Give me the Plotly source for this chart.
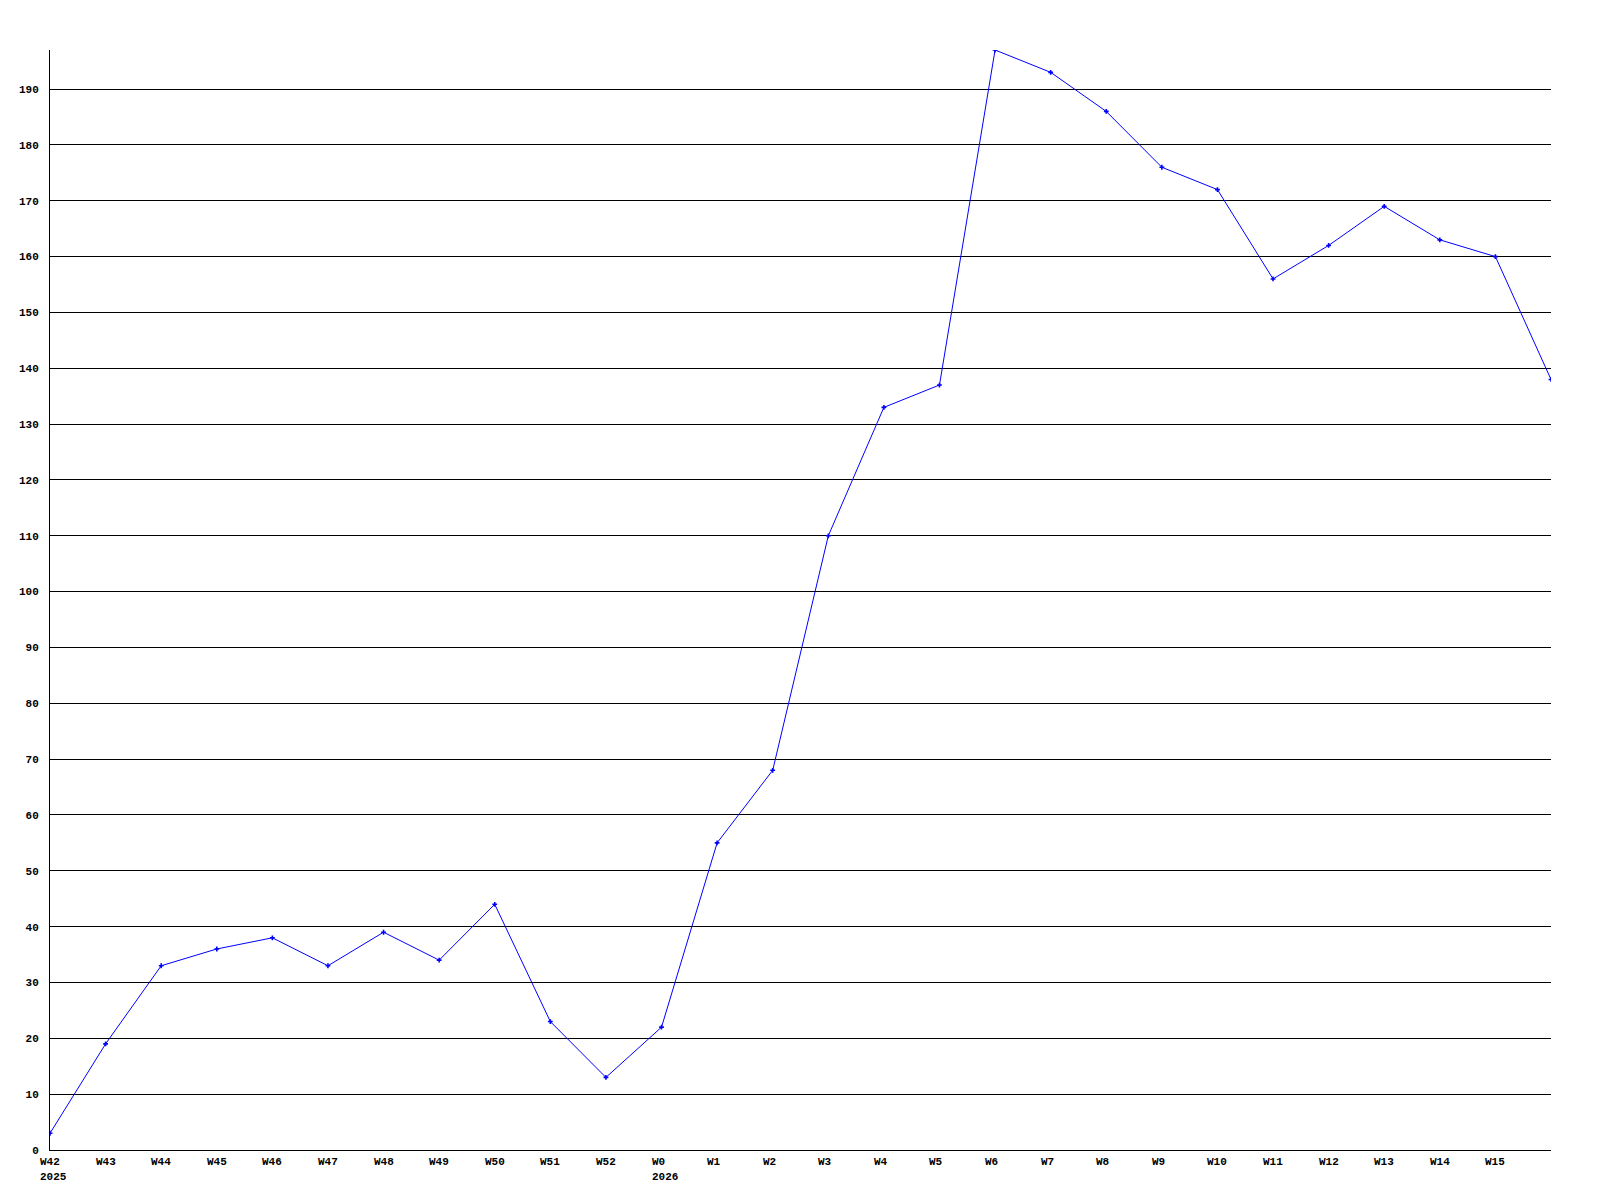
import plotly.graph_objects as go

week_labels = ["W42", "W43", "W44", "W45", "W46", "W47", "W48", "W49", "W50", "W51", "W52",
               "W0", "W1", "W2", "W3", "W4", "W5", "W6", "W7", "W8", "W9", "W10", "W11",
               "W12", "W13", "W14", "W15"]
year_labels = {0: "2025", 11: "2026"}
values = [3, 19, 33, 36, 38, 33, 39, 34, 44, 23, 13, 22, 55, 68, 110, 133, 137, 197,
          193, 186, 176, 172, 156, 162, 169, 163, 160, 138]
x_pos = list(range(len(values)))
y_ticks = list(range(0, 200, 10))

FONT = "Liberation Mono"

fig = go.Figure()
fig.add_trace(go.Scatter(
    x=x_pos, y=values, mode="lines+markers",
    line=dict(color="#0000ff", width=1),
    marker=dict(symbol="cross", size=4, color="#0000ff"),
    hoverinfo="skip", showlegend=False,
))

annotations = []
for i, lab in enumerate(week_labels):
    annotations.append(dict(
        x=i, xref="x", y=0, yref="paper", yanchor="top", xanchor="left",
        xshift=-12, yshift=-4, text=f"<b>{lab}</b>", showarrow=False, align="left",
        font=dict(family=FONT, size=11, color="black"),
    ))
    if i in year_labels:
        annotations.append(dict(
            x=i, xref="x", y=0, yref="paper", yanchor="top", xanchor="left",
            xshift=-12, yshift=-19, text=f"<b>{year_labels[i]}</b>", showarrow=False,
            align="left", font=dict(family=FONT, size=11, color="black"),
        ))

# page body has an 8px margin, so the figure is offset by 8px
fig.update_layout(
    width=1592, height=1192,
    margin=dict(l=42, r=49, t=42, b=50, autoexpand=False),
    paper_bgcolor="white", plot_bgcolor="white",
    annotations=annotations,
    xaxis=dict(range=[0, 27], showgrid=False, zeroline=False, showticklabels=False,
               showline=True, linecolor="black", linewidth=1, ticks="", automargin=False),
    yaxis=dict(range=[0, 197], tickvals=y_ticks,
               ticktext=[f"<b>{v}</b>" for v in y_ticks],
               showgrid=True, gridcolor="black", gridwidth=1, zeroline=False,
               showline=True, linecolor="black", linewidth=1, ticks="",
               ticklabelstandoff=8, automargin=False,
               tickfont=dict(family=FONT, size=11, color="black")),
)
fig.write_html("out.html")
